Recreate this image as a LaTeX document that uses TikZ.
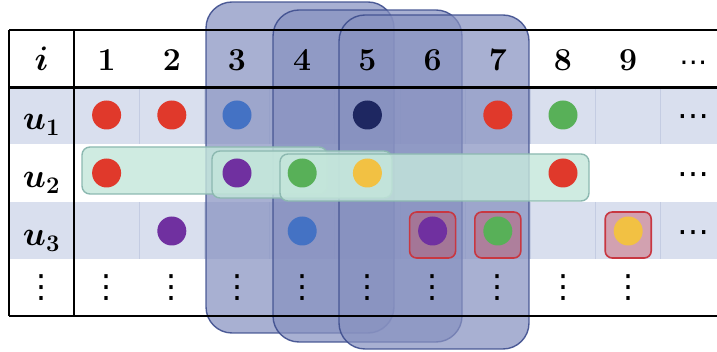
\documentclass[tikz,border=0pt]{standalone}
\usepackage{fix-cm}
\usepackage{amsmath,amssymb}
\usepackage{fontspec}
\usetikzlibrary{calc}
\newfontfamily\dotsfont{DejaVu Sans}
\definecolor{rowtint}{RGB}{217,223,238}
\definecolor{sepline}{RGB}{196,204,226}
\definecolor{winfill}{RGB}{135,145,192}
\definecolor{winedge}{RGB}{62,78,142}
\definecolor{spanfill}{RGB}{196,230,219}
\definecolor{spanedge}{RGB}{140,184,176}
\definecolor{hitfill}{RGB}{200,70,85}
\definecolor{hitedge}{RGB}{200,55,65}
\definecolor{cred}{RGB}{224,57,43}
\definecolor{cblue}{RGB}{68,114,196}
\definecolor{cnavy}{RGB}{30,39,97}
\definecolor{cgreen}{RGB}{88,176,88}
\definecolor{cpurple}{RGB}{112,48,160}
\definecolor{cyellow}{RGB}{242,193,67}
\begin{document}
\begin{tikzpicture}[x=1pt,y=-1pt,
  rule/.style={line width=2.4pt, black},
  sep/.style={draw=sepline, line width=0.8pt},
  winbox/.style={rectangle, draw=winedge, fill=winfill, fill opacity=0.72,
    draw opacity=0.9, line width=1.4pt, rounded corners=26pt, inner sep=0pt},
  spanbox/.style={rectangle, draw=spanedge, fill=spanfill, fill opacity=0.82,
    line width=1.4pt, rounded corners=8pt, inner sep=0pt},
  hitbox/.style={rectangle, draw=hitedge, fill=hitfill, fill opacity=0.4,
    line width=1.6pt, rounded corners=7pt, inner sep=0pt,
    minimum width=46pt, minimum height=46pt},
  dot/.style={circle, minimum size=29pt, inner sep=0pt},
  hd/.style={font=\fontsize{32}{36}\selectfont\bfseries, inner sep=0pt, anchor=base},
  lab/.style={font=\fontsize{34}{40}\selectfont\boldmath, inner sep=0pt, anchor=base},
  hdots/.style={font=\fontsize{32}{32}\dotsfont, inner sep=0pt, yshift=-6pt},
  vdots/.style={font=\fontsize{32}{32}\dotsfont, inner sep=0pt}]
\useasboundingbox (0,0) rectangle (717,352);

% column centres and row centres
\foreach \k in {1,...,10}
  \coordinate (c\k) at ({74+65.2*(\k-0.5)},0);
\coordinate (ci) at (41.5,0);
\coordinate (r0) at (0,60);
\coordinate (r1) at (0,115);
\coordinate (r2) at (0,173);
\coordinate (r3) at (0,231);
\coordinate (r4) at (0,288);

% shaded rows with thin cell separators
\fill[rowtint] (9,87.5) rectangle (717,144);
\fill[rowtint] (9,202) rectangle (717,259);
\foreach \k in {1,...,9} {
  \draw[sep] ({74+65.2*\k},87.5) -- ({74+65.2*\k},144);
  \draw[sep] ({74+65.2*\k},202) -- ({74+65.2*\k},259);
}

% sliding windows over the columns
\node[winbox, minimum width=188pt, minimum height=331pt] (w1) at (300,167.5) {};
\node[winbox, minimum width=189pt, minimum height=332pt] (w2) at (367.5,176) {};
\node[winbox, minimum width=190pt, minimum height=334pt] (w3) at (434,182) {};

% table rules
\draw[rule] (9,30) -- (717,30);
\draw[rule] (9,87.5) -- (717,87.5);
\draw[rule] (9,316) -- (717,316);
\draw[rule] (9,30) -- (9,316);
\draw[rule] (74,30) -- (74,316);

% spans along row u2
\node[spanbox, minimum width=245pt, minimum height=47pt] (s1) at (204.5,170.5) {};
\node[spanbox, minimum width=180pt, minimum height=47pt] (s2) at (302,174.5) {};
\node[spanbox, minimum width=309pt, minimum height=47pt] (s3) at (434.5,177.5) {};

% marked cells in row u3
\node[hitbox] (h6) at ($(c6)+(0,235)$) {};
\node[hitbox] (h7) at ($(c7)+(0,235)$) {};
\node[hitbox] (h9) at ($(c9)+(0,235)$) {};

% header
\node[lab] (hi) at (41.5,71) {$i$};
\foreach \k in {1,...,9}
  \node[hd] (h-\k) at ($(c\k)+(0,71)$) {\k};
\node[hdots, font=\fontsize{28}{28}\dotsfont] (h-10) at (c10 |- r0) {⋯};

% row labels
\node[lab] (l1) at (41.5,130) {$u_1$};
\node[lab] (l2) at (41.5,188) {$u_2$};
\node[lab] (l3) at (41.5,246) {$u_3$};
\node[vdots] (l4) at (ci |- r4) {⋮};

% items
\foreach \col/\row/\clr in {1/1/cred, 2/1/cred, 3/1/cblue, 5/1/cnavy, 7/1/cred, 8/1/cgreen,
    1/2/cred, 3/2/cpurple, 4/2/cgreen, 5/2/cyellow, 8/2/cred,
    2/3/cpurple, 4/3/cblue, 6/3/cpurple, 7/3/cgreen, 9/3/cyellow}
  \node[dot, fill=\clr] (d\row-\col) at (c\col |- r\row) {};

% continuation marks
\foreach \row in {1,2,3}
  \node[hdots] (e\row) at (c10 |- r\row) {⋯};
\foreach \k in {1,...,9}
  \node[vdots] (v\k) at (c\k |- r4) {⋮};
\end{tikzpicture}
\end{document}
